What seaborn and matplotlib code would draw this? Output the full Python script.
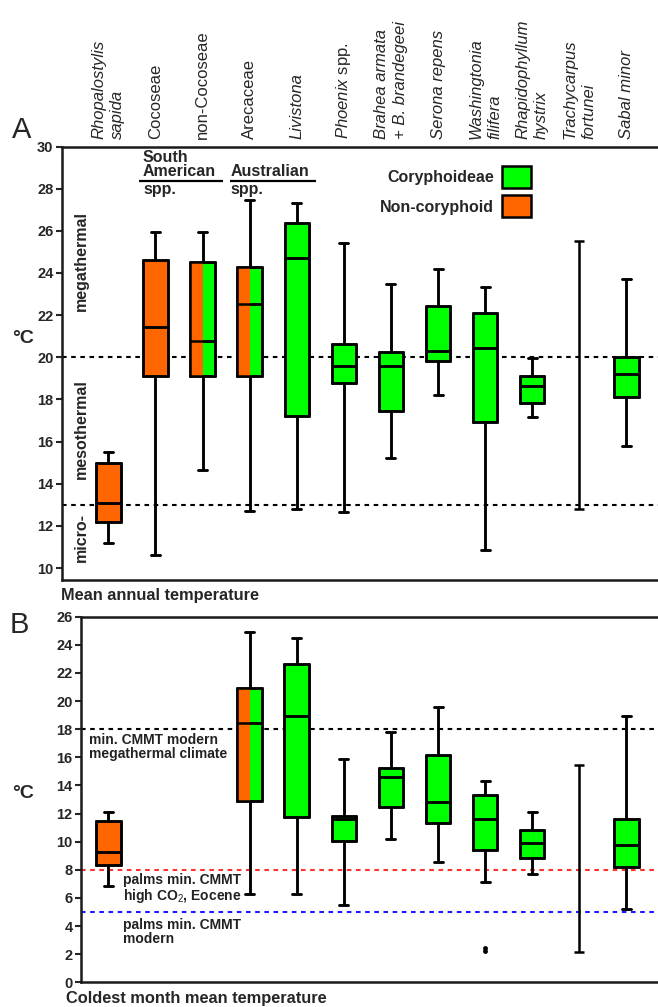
import numpy as np
import pandas as pd
import matplotlib
matplotlib.use("Agg")
import matplotlib.pyplot as plt
from matplotlib.patches import Patch, Rectangle
from matplotlib.transforms import blended_transform_factory
import seaborn as sns

sns.set_style("white")
plt.rcParams['font.family'] = ['Liberation Sans', 'DejaVu Sans']
plt.rcParams['mathtext.fontset'] = 'custom'
plt.rcParams['mathtext.rm'] = 'Liberation Sans'
plt.rcParams['mathtext.it'] = 'Liberation Sans:italic'
plt.rcParams['mathtext.bf'] = 'Liberation Sans:bold'

# 분류군 (x축 순서)
taxa = ["Rhopalostylis sapida", "Cocoseae", "non-Cocoseae", "Arecaceae",
        "Livistona", "Phoenix spp.", "Brahea armata + B. brandegeei",
        "Serona repens", "Washingtonia filifera", "Rhapidophyllum hystrix",
        "Trachycarpus fortunei", "Sabal minor"]
col_labels = ["Rhopalostylis\nsapida", "Cocoseae", "non-Cocoseae", "Arecaceae",
              "Livistona", r"$\it{Phoenix}$ spp.",
              "Brahea armata\n+ B. brandegeei", "Serona repens",
              "Washingtonia\nfilifera", "Rhapidophyllum\nhystrix",
              "Trachycarpus\nfortunei", "Sabal minor"]
col_italic = [True, False, False, False, True, False, True, True, True, True,
              True, True]
# non = non-coryphoid, cory = Coryphoideae, mixed = both
groups = ["non", "non", "mixed", "mixed", "cory", "cory", "cory", "cory",
          "cory", "cory", "cory", "cory"]

# A: mean annual temperature (min, Q1, median, Q3, max), None = not shown
mat_low = [11.2, 10.6, 14.65, 12.7, 12.8, 12.65, 15.2, 18.2, 10.85, 17.15, 12.8, 15.8]
mat_q1 = [12.2, 19.1, 19.1, 19.1, 17.2, 18.8, 17.45, 19.8, 16.95, 17.85, None, 18.1]
mat_med = [13.1, 21.43, 20.77, 22.52, 24.7, 19.58, 19.6, 20.32, 20.42, 18.65, None, 19.2]
mat_q3 = [14.98, 24.6, 24.5, 24.26, 26.36, 20.62, 20.26, 22.41, 22.11, 19.12, None, 20.0]
mat_high = [15.5, 25.95, 25.95, 27.45, 27.3, 25.42, 23.5, 24.21, 23.34, 19.96, 25.5, 23.71]

# B: coldest month mean temperature
cmmt_low = [6.87, None, None, 6.26, 6.3, 5.52, 10.17, 8.55, 7.13, 7.7, 2.18, 5.19]
cmmt_q1 = [8.34, None, None, 12.89, 11.75, 10.05, 12.49, 11.35, 9.41, 8.84, None, 8.18]
cmmt_med = [9.24, None, None, 18.42, 18.96, 11.59, 14.62, 12.8, 11.64, 9.91, None, 9.76]
cmmt_q3 = [11.45, None, None, 20.9, 22.66, 11.8, 15.26, 16.19, 13.34, 10.83, None, 11.59]
cmmt_high = [12.09, None, None, 24.93, 24.46, 15.9, 17.78, 19.58, 14.31, 12.09, 15.48, 18.96]
cmmt_outlier_taxon = ["Washingtonia filifera", "Washingtonia filifera"]
cmmt_outliers = [2.45, 2.2]

ORANGE = '#ff6600'
GREEN = '#00ff00'
BOX_W = 0.52
LW = 1.8
DOT = (0, (2.2, 2.2))


def draw_boxes(ax, low, q1, med, q3, high):
    """5-number 요약값으로 상자그림 그리기"""
    rows = []
    for t, vals in zip(taxa, zip(low, q1, med, q3, high)):
        if None in vals:
            continue
        rows += [(t, v) for v in vals]
    df = pd.DataFrame(rows, columns=['taxon', 'temp'])
    pal = {t: (ORANGE if g == 'non' else GREEN) for t, g in zip(taxa, groups)}
    sns.boxplot(data=df, x='taxon', y='temp', order=taxa, hue='taxon',
                palette=pal, saturation=1, width=BOX_W, whis=(0, 100),
                linecolor='black', linewidth=LW, legend=False,
                capwidths=0.19, ax=ax)
    # mixed groups: left half orange
    for i, g in enumerate(groups):
        if g == 'mixed' and q1[i] is not None:
            ax.add_patch(Rectangle((i - BOX_W / 2, q1[i]), BOX_W / 2,
                                   q3[i] - q1[i], facecolor=ORANGE,
                                   edgecolor='none', zorder=2.5))
    # outlines again on top
    n_lines, n_patches = len(ax.lines), len(ax.patches)
    sns.boxplot(data=df, x='taxon', y='temp', order=taxa, width=BOX_W,
                whis=(0, 100), fill=False, color='black', linewidth=LW,
                capwidths=0.19, ax=ax)
    for art in list(ax.lines)[n_lines:] + list(ax.patches)[n_patches:]:
        art.set_zorder(3)
    # range only (no box)
    for i in range(len(taxa)):
        if q1[i] is None and low[i] is not None:
            ax.errorbar(i, (low[i] + high[i]) / 2, yerr=(high[i] - low[i]) / 2,
                        fmt='none', ecolor='black', elinewidth=LW,
                        capsize=3.3, capthick=LW)


def style_axis(ax, ticks, ylim, xlim):
    ax.set_xlim(*xlim)
    ax.set_ylim(*ylim)
    ax.set_yticks(ticks)
    ax.set_yticklabels([str(t) for t in ticks], fontweight='bold', fontsize=10.5)
    ax.set_xticks([])
    ax.set_xlabel('')
    ax.set_ylabel('')
    ax.tick_params(axis='y', left=True, length=4, width=1.5, direction='out', pad=2)
    ax.spines['right'].set_visible(False)
    for s in ['left', 'top', 'bottom']:
        ax.spines[s].set_linewidth(1.8)
        ax.spines[s].set_color('#1a1a1a')


fig = plt.figure(figsize=(6.58, 10.07), dpi=100)
ax_a = fig.add_axes([0.0938, 0.424, 0.9062, 0.4305])
ax_b = fig.add_axes([0.1231, 0.0245, 0.8769, 0.3631])

# ---- A ----
ax_a.axhline(20, color='black', lw=1.5, ls=DOT, zorder=1)
ax_a.axhline(13, color='black', lw=1.5, ls=DOT, zorder=1)
draw_boxes(ax_a, mat_low, mat_q1, mat_med, mat_q3, mat_high)
style_axis(ax_a, list(range(10, 31, 2)), (9.43, 30), (-0.991, 11.67))

trans = blended_transform_factory(ax_a.transData, ax_a.transAxes)
for i, (lab, it) in enumerate(zip(col_labels, col_italic)):
    ax_a.text(i, 1.018, lab, transform=trans, rotation=90, ha='center',
              va='bottom', multialignment='left', fontsize=12, linespacing=1.3,
              fontstyle='italic' if it else 'normal')

bold = dict(fontweight='bold', fontsize=11.5)
ax_a.text(-0.567, 24.58, "megathermal", rotation=90, ha='center', va='center', **bold)
ax_a.text(-0.567, 16.6, "mesothermal", rotation=90, ha='center', va='center', **bold)
ax_a.text(-0.567, 11.43, "micro-", rotation=90, ha='center', va='center', **bold)

ax_a.text(0.734, 29.46, "South", ha='left', va='center', **bold)
ax_a.text(0.734, 28.8, "American", ha='left', va='center', **bold)
ax_a.hlines(28.37, 0.64, 2.43, color='black', lw=1.6)
ax_a.text(0.734, 27.94, "spp.", ha='left', va='center', **bold)
ax_a.text(2.585, 28.8, "Australian", ha='left', va='center', **bold)
ax_a.hlines(28.37, 2.585, 4.41, color='black', lw=1.6)
ax_a.text(2.6, 27.94, "spp.", ha='left', va='center', **bold)

handles = [Patch(facecolor=GREEN, edgecolor='black', lw=LW, label='Coryphoideae'),
           Patch(facecolor=ORANGE, edgecolor='black', lw=LW, label='Non-coryphoid')]
ax_a.legend(handles=handles, loc='upper right', bbox_to_anchor=(0.787, 0.955),
            markerfirst=False, frameon=False, prop=dict(weight='bold', size=11.5),
            handlelength=1.8, handleheight=1.75, labelspacing=0.45,
            handletextpad=0.5, borderaxespad=0, borderpad=0)

fig.text(0.0927, 0.409, "Mean annual temperature", ha='left', va='center',
         fontweight='bold', fontsize=11.8)
fig.text(0.018, 0.863, "A", fontsize=21, ha='left', va='baseline')
fig.text(0.0182, 0.664, "°C", fontsize=14, fontweight='bold', ha='left', va='center')

# ---- B ----
ax_b.axhline(18, color='black', lw=1.5, ls=DOT, zorder=1)
ax_b.axhline(8, color='#ff3030', lw=1.5, ls=DOT, zorder=1)
ax_b.axhline(5, color='#1a1aff', lw=1.5, ls=DOT, zorder=1)
draw_boxes(ax_b, cmmt_low, cmmt_q1, cmmt_med, cmmt_q3, cmmt_high)
sns.stripplot(x=cmmt_outlier_taxon, y=cmmt_outliers, order=taxa, color='black',
              size=3.5, jitter=False, ax=ax_b)
style_axis(ax_b, list(range(0, 27, 2)), (0, 26), (-0.58, 11.67))

small = dict(fontweight='bold', fontsize=10, color='#222222', linespacing=1.0)
ax_b.text(-0.41, 17.75, "min. CMMT modern\nmegathermal climate", ha='left', va='top', **small)
ax_b.text(0.31, 7.75, "palms min. CMMT\nhigh CO$_2$, Eocene", ha='left', va='top', **small)
ax_b.text(0.31, 4.6, "palms min. CMMT\nmodern", ha='left', va='top', **small)

fig.text(0.1003, 0.0089, "Coldest month mean temperature", ha='left', va='center',
         fontweight='bold', fontsize=11.8)
fig.text(0.015, 0.371, "B", fontsize=21, ha='left', va='baseline')
fig.text(0.0182, 0.2125, "°C", fontsize=14, fontweight='bold', ha='left', va='center')

fig.savefig("out.png", dpi=100)
